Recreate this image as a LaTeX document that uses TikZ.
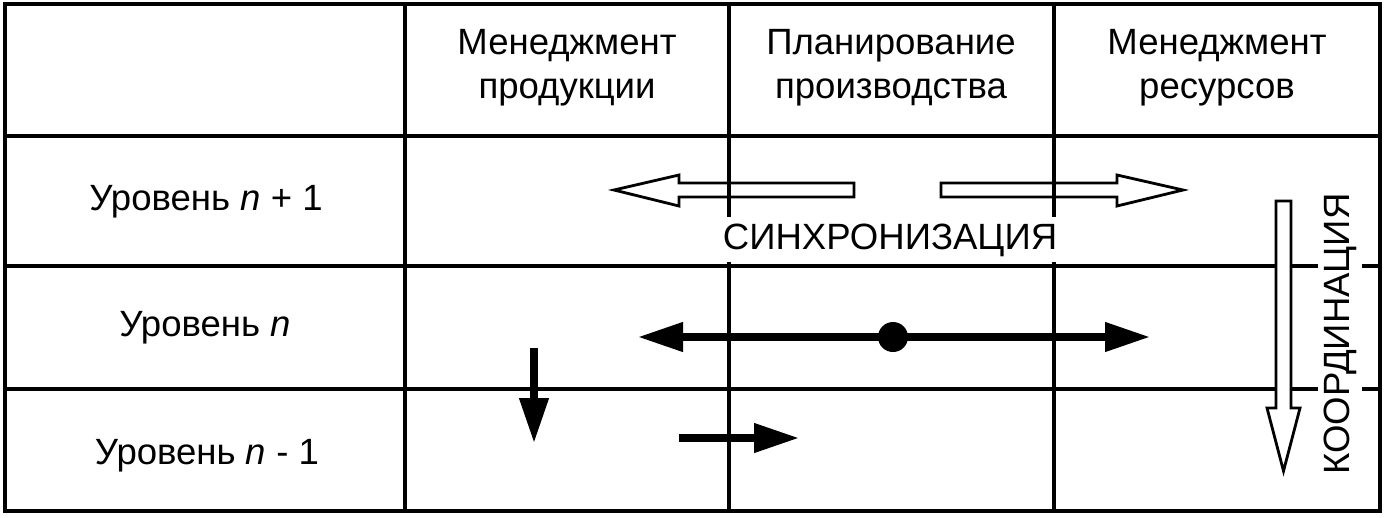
\documentclass[tikz,border=0pt]{standalone}
\usepackage{fontspec}
\setmainfont{Liberation Sans}
\usetikzlibrary{arrows.meta,positioning}
\tikzset{
  tbl/.style={line width=2.5pt},
  lbl/.style={align=center,inner sep=0pt},
  tag/.style={fill=white,inner xsep=0.6mm,inner ysep=1.2mm},
  arr/.style={-{Triangle[length=9mm,width=5.6mm]},line width=4.2pt},
  dbl/.style={{Triangle[length=9mm,width=5.6mm]}-{Triangle[length=9mm,width=5.6mm]},line width=4.2pt},
  hollow/.style={draw,line width=1.6pt,line join=miter},
  hub/.style={circle,fill,inner sep=0pt,minimum size=6mm}
}

\begin{document}
\begin{tikzpicture}[x=0.2mm,y=-0.2mm,font=\fontsize{20.8}{25}\selectfont]
\useasboundingbox (0,0) rectangle (1385,517);
% table
\draw[tbl] (5,4) rectangle (1380,511);
\draw[tbl] (5,136)--(1380,136) (5,266)--(1380,266) (5,389)--(1380,389);
\draw[tbl] (405,4)--(405,511) (729,4)--(729,511) (1054,4)--(1054,511);
% header and row labels
\node[lbl] (h1) at (567,68) {Менеджмент\\продукции};
\node[lbl] (h2) at (891,68) {Планирование\\производства};
\node[lbl] (h3) at (1217,68) {Менеджмент\\ресурсов};
\node[lbl,anchor=base] (r1) at (206,210) {Уровень \textit{n} + 1};
\node[lbl,anchor=base] (r2) at (205,336) {Уровень \textit{n}};
\node[lbl,anchor=base] (r3) at (207,464) {Уровень \textit{n} - 1};
% synchronisation
\draw[hollow] (854,183)--(679,183)--(679,175)--(614,190)--(679,206)--(679,197)--(854,197)--cycle;
\draw[hollow] (941,183)--(1117,183)--(1117,175)--(1183,190)--(1117,206)--(1117,197)--(941,197)--cycle;
\node[lbl,tag,anchor=base] (sync) at (890,249) {СИНХРОНИЗАЦИЯ};
% coordination
\draw[hollow,fill=white] (1276,201)--(1291,201)--(1291,408)--(1300,408)--(1283.5,471)--(1267,408)--(1276,408)--cycle;
\node[lbl,tag,rotate=90,anchor=base] (coord) at (1349,334) {КООРДИНАЦИЯ};
% level n
\coordinate (le) at (638,337);
\coordinate (re) at (1150,337);
\draw[dbl] (le)--(re);
\node[hub] (mid) at (893,337) {};
% level n-1
\coordinate (d1) at (534,348);
\coordinate (d2) at (534,443);
\coordinate (s1) at (679,438);
\coordinate (s2) at (799,438);
\draw[arr] (d1)--(d2);
\draw[arr] (s1)--(s2);
\end{tikzpicture}
\end{document}
